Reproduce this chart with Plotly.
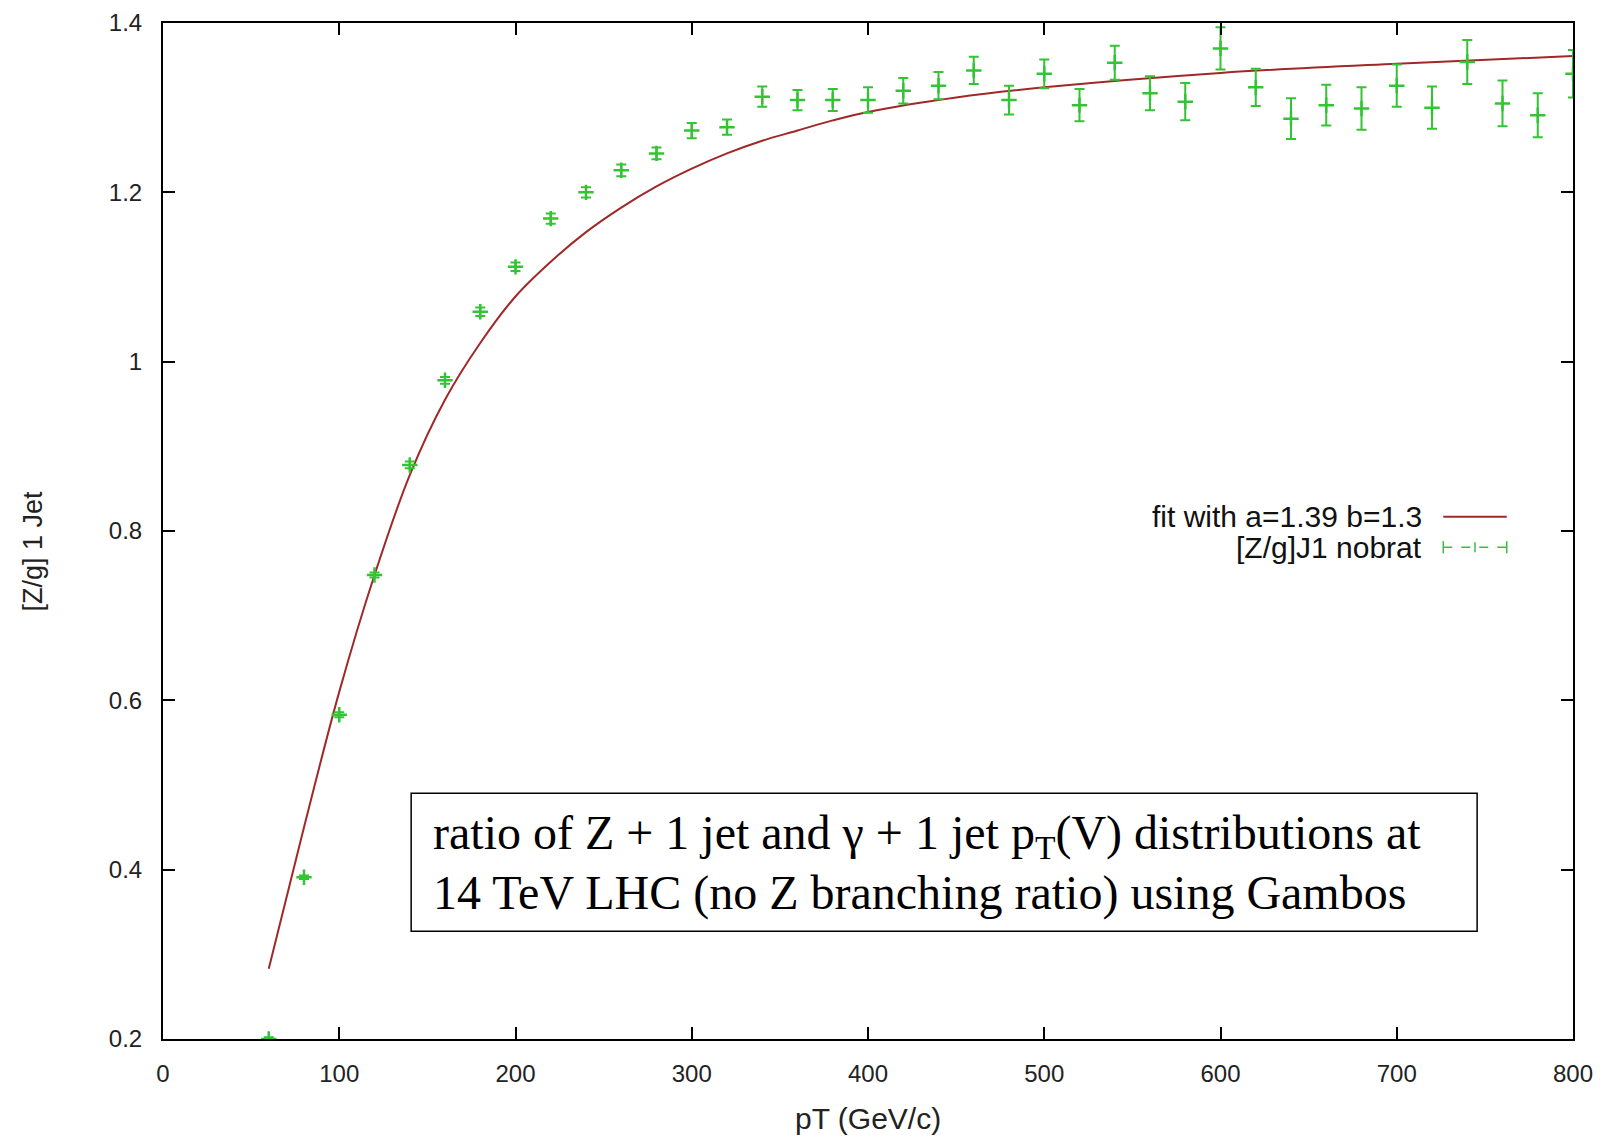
import plotly.graph_objects as go

# ---- data ----
pt = [60, 80, 100, 120, 140, 160, 180, 200, 220, 240, 260, 280, 300, 320, 340, 360, 380, 400,
      420, 440, 460, 480, 500, 520, 540, 560, 580, 600, 620, 640, 660, 680, 700, 720, 740, 760,
      780, 800]
ratio = [0.200, 0.391, 0.583, 0.748, 0.878, 0.978, 1.059, 1.112, 1.169, 1.200, 1.226, 1.246,
         1.273, 1.277, 1.313, 1.309, 1.309, 1.309, 1.320, 1.326, 1.344, 1.309, 1.340, 1.303,
         1.353, 1.317, 1.307, 1.370, 1.324, 1.287, 1.303, 1.299, 1.326, 1.300, 1.354, 1.305,
         1.291, 1.340]
ratio_err = [0.002, 0.002, 0.003, 0.003, 0.004, 0.004, 0.005, 0.005, 0.006, 0.006, 0.007, 0.007,
             0.009, 0.009, 0.012, 0.012, 0.013, 0.015, 0.015, 0.016, 0.016, 0.017, 0.017, 0.019,
             0.020, 0.020, 0.022, 0.025, 0.022, 0.024, 0.024, 0.025, 0.025, 0.025, 0.026, 0.027,
             0.026, 0.028]

fit_x = [60, 80, 100, 120, 140, 160, 180, 200, 220, 240, 260, 280, 300, 320, 340, 360, 380,
         400, 450, 500, 600, 700, 800]
fit_y = [0.283, 0.450, 0.610, 0.748, 0.866, 0.955, 1.022, 1.077, 1.118, 1.153, 1.182, 1.207,
         1.228, 1.246, 1.261, 1.273, 1.285, 1.295, 1.312, 1.324, 1.341, 1.352, 1.361]

x_ticks = [0, 100, 200, 300, 400, 500, 600, 700, 800]
y_ticks = [0.2, 0.4, 0.6, 0.8, 1.0, 1.2, 1.4]
y_ticktext = ["0.2", "0.4", "0.6", "0.8", "1", "1.2", "1.4"]

fit_label = "fit with a=1.39 b=1.3"
data_label = "[Z/g]J1 nobrat"
x_title = "pT (GeV/c)"
y_title = "[Z/g] 1 Jet"
box_lines = ["ratio of Z + 1 jet and \u03b3 + 1 jet p<sub>T</sub>(V) distributions at",
             "14 TeV LHC (no Z branching ratio) using Gambos"]

RED = "#a02828"
GREEN = "#33c433"
SANS = "Liberation Sans, Arial, sans-serif"
SERIF = "Liberation Serif, Times New Roman, serif"

fig = go.Figure()
fig.add_trace(go.Scatter(x=fit_x, y=fit_y, mode="lines", line=dict(color=RED, width=2, shape="spline"),
                         name=fit_label, showlegend=False))
fig.add_trace(go.Scatter(x=pt, y=ratio, mode="markers", name=data_label, showlegend=False,
                         marker=dict(symbol="cross-thin", size=11, line=dict(color=GREEN, width=2.5)),
                         error_y=dict(type="data", array=ratio_err, visible=True, color=GREEN,
                                      thickness=2, width=5)))

axis_common = dict(showline=True, linecolor="black", linewidth=2, mirror="allticks",
                   ticks="inside", ticklen=12, tickwidth=2, tickcolor="black", showgrid=False,
                   zeroline=False, automargin=False,
                   tickfont=dict(family=SANS, size=24, color="#222"))
fig.update_xaxes(range=[0, 800], tickvals=x_ticks, ticklabelstandoff=12, **axis_common)
fig.update_yaxes(range=[0.2, 1.4], tickvals=y_ticks, ticktext=y_ticktext, ticklabelstandoff=14,
                 **axis_common)

annotations = [
    dict(text=x_title, xref="paper", yref="paper", x=0.5, y=-0.078, showarrow=False,
         font=dict(family=SANS, size=30, color="#222"), xanchor="center", yanchor="middle"),
    dict(text=y_title, xref="paper", yref="paper", x=-0.092, y=0.48, showarrow=False,
         textangle=-90, font=dict(family=SANS, size=27, color="#222"),
         xanchor="center", yanchor="middle"),
    dict(text=fit_label, xref="paper", yref="paper", x=0.894, y=0.514, showarrow=False,
         font=dict(family=SANS, size=30, color="#111"), xanchor="right", yanchor="middle"),
    dict(text=data_label, xref="paper", yref="paper", x=0.894, y=0.484, showarrow=False,
         font=dict(family=SANS, size=30, color="#111"), xanchor="right", yanchor="middle"),
    dict(text=box_lines[0], xref="paper", yref="paper", x=0.190, y=0.200, showarrow=False,
         font=dict(family=SERIF, size=48, color="black"), xanchor="left", yanchor="middle"),
    dict(text=box_lines[1], xref="paper", yref="paper", x=0.190, y=0.144, showarrow=False,
         font=dict(family=SERIF, size=48, color="black"), xanchor="left", yanchor="middle"),
]

shapes = [
    # text box
    dict(type="rect", xref="paper", yref="paper", x0=0.176, x1=0.932, y0=0.106, y1=0.242,
         line=dict(color="black", width=1.5), fillcolor="white", layer="above"),
    # legend sample: fit line
    dict(type="line", xref="paper", yref="paper", x0=0.908, x1=0.953, y0=0.514, y1=0.514,
         line=dict(color=RED, width=2)),
    # legend sample: error bar line
    dict(type="line", xref="paper", yref="paper", x0=0.908, x1=0.953, y0=0.484, y1=0.484,
         line=dict(color=GREEN, width=1.5, dash="dash")),
    dict(type="line", xref="paper", yref="paper", x0=0.908, x1=0.908, y0=0.478, y1=0.490,
         line=dict(color=GREEN, width=1.5)),
    dict(type="line", xref="paper", yref="paper", x0=0.953, x1=0.953, y0=0.478, y1=0.490,
         line=dict(color=GREEN, width=1.5)),
    dict(type="line", xref="paper", yref="paper", x0=0.9305, x1=0.9305, y0=0.479, y1=0.489,
         line=dict(color=GREEN, width=1.5)),
]

fig.update_layout(width=1616, height=1139, plot_bgcolor="white", paper_bgcolor="white",
                  margin=dict(l=155, r=51, t=15, b=108), showlegend=False,
                  annotations=annotations, shapes=shapes)

fig.write_html("out.html")
